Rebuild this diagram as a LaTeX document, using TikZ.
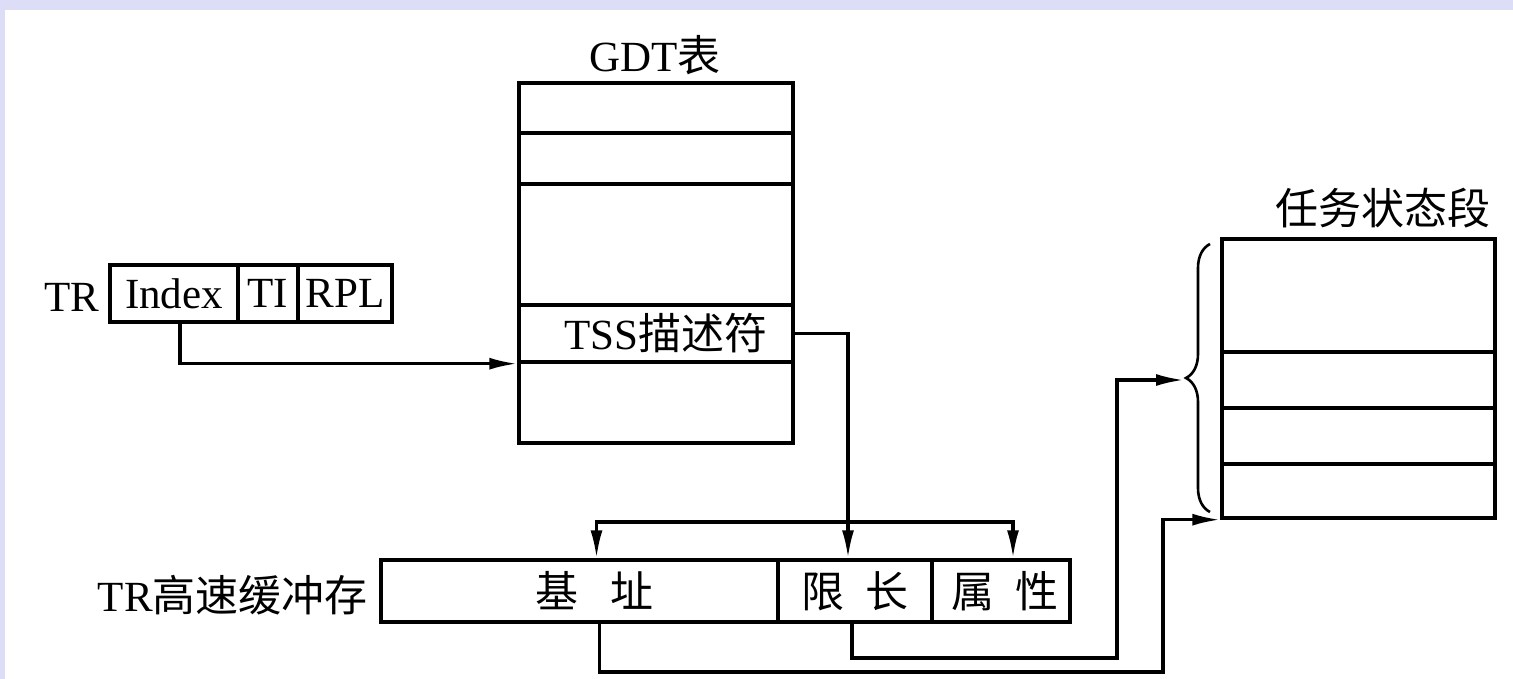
\documentclass[tikz,border=0pt]{standalone}
\usepackage{fontspec}
\setmainfont{Liberation Serif}
\newfontfamily\cjk{Noto Sans CJK SC}
\usetikzlibrary{arrows.meta,decorations.pathreplacing}
\definecolor{framecol}{HTML}{DDDDF8}
\begin{document}
\begin{tikzpicture}[x=1pt,y=-1pt,
  cellbox/.style={draw, line width=3.4pt, inner sep=0pt, font=\fontsize{43}{43}\selectfont},
  lbl/.style={inner sep=0pt, font=\fontsize{43}{43}\selectfont},
  conn/.style={line width=3.2pt, -{Latex[length=28pt,width=12pt]}},
]
\useasboundingbox (0,0) rectangle (1513,679);
\fill[framecol] (0,0) rectangle (1513,679);
\fill[white] (5,10) rectangle (1513,679);

% TR register
\node[lbl] (trlbl) at (72,297) {TR};
\node[cellbox, minimum width=128pt, minimum height=57pt] (idx) at (174,293.5) {Index};
\node[cellbox, minimum width=60pt, minimum height=57pt] (ti) at (268,293.5) {TI};
\node[cellbox, minimum width=94pt, minimum height=57pt] (rpl) at (345,293.5) {RPL};

% GDT table
\node[lbl] (gdtlbl) at (655,55) {GDT{\cjk 表}};
\node[cellbox, minimum width=274pt, minimum height=50pt] (g1) at (656,108) {};
\node[cellbox, minimum width=274pt, minimum height=51pt] (g2) at (656,158.5) {};
\node[cellbox, minimum width=274pt, minimum height=121pt] (g3) at (656,244.5) {};
\node[cellbox, minimum width=274pt, minimum height=57pt] (g4) at (656,333.5) {};
\node[cellbox, minimum width=274pt, minimum height=81pt] (g5) at (656,402.5) {};
\node[lbl] (tssdesc) at ([xshift=10pt]g4.center) {TSS{\cjk 描述符}};

% Task state segment
\node[lbl] (tsslbl) at (1383,208) {\cjk 任务状态段};
\node[cellbox, minimum width=273pt, minimum height=113pt] (t1) at (1358.5,295.5) {};
\node[cellbox, minimum width=273pt, minimum height=56pt] (t2) at (1358.5,380) {};
\node[cellbox, minimum width=273pt, minimum height=56pt] (t3) at (1358.5,436) {};
\node[cellbox, minimum width=273pt, minimum height=54pt] (t4) at (1358.5,491) {};

% TR cache
\node[lbl, anchor=east] (cachelbl) at (368,595) {TR{\cjk 高速缓冲存}};
\node[cellbox, minimum width=397pt, minimum height=62pt] (base) at (579.5,591) {};
\node[cellbox, minimum width=154pt, minimum height=62pt] (lim) at (855,591) {};
\node[cellbox, minimum width=138pt, minimum height=62pt] (attr) at (1001,591) {};
\node[lbl] (basetxt) at ([xshift=15pt]base.center) {\cjk 基\hspace{32pt}址};
\node[lbl] (limtxt) at (lim.center) {\cjk 限\hspace{22pt}长};
\node[lbl] (attrtxt) at ([xshift=4pt]attr.center) {\cjk 属\hspace{22pt}性};

% connectors
\draw[conn] ([xshift=6pt]idx.south) |- (g4.south west);
\coordinate (j1) at (848,522);
\draw[conn] (g4.east) -| ([xshift=-7pt]lim.north);
\draw[conn] (j1) -| ([xshift=17pt]base.north);
\draw[conn] (j1) -| ([xshift=12pt]attr.north);

\coordinate (c1) at (1163,672);
\draw[conn] ([xshift=20pt]base.south) |- (c1) |- (t4.south west);
\coordinate (c2) at (1117,658);
\coordinate (btip) at (1184,380);
\draw[conn] ([xshift=-3pt]lim.south) |- (c2) |- (btip);

% brace
\coordinate (brbot) at (1210,512);
\coordinate (brtop) at (1210,244);
\draw[line width=2.6pt, decorate, decoration={brace, amplitude=24pt}] (brbot) -- (brtop);
\end{tikzpicture}
\end{document}
